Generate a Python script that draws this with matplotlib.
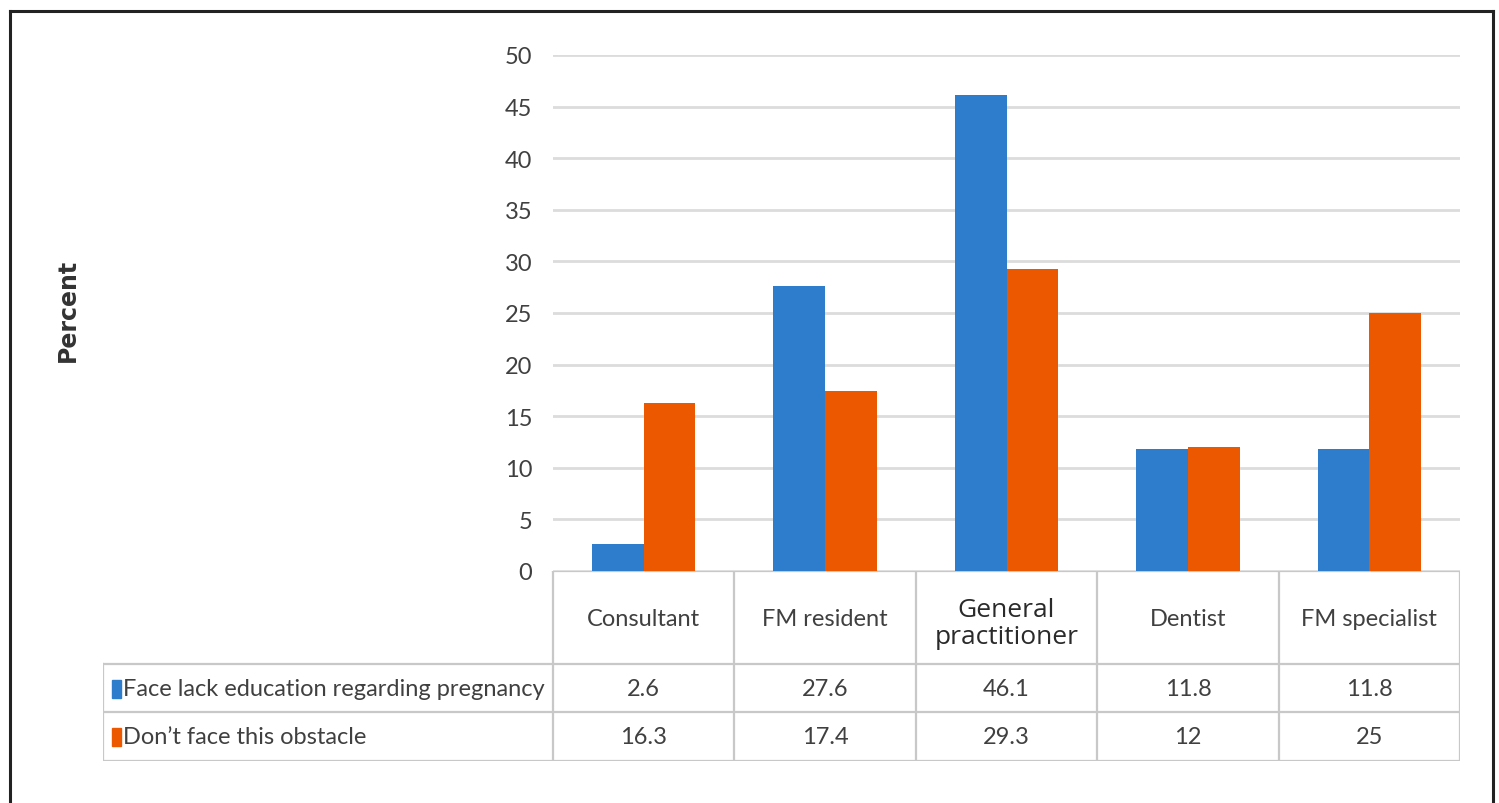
import matplotlib.pyplot as plt
import numpy as np

# Datos por categoría profesional
categorias = ["Consultant", "FM resident", "General\npractitioner", "Dentist", "FM specialist"]
series = ["Face lack education regarding pregnancy", "Don\u2019t face this obstacle"]
falta_educacion = [2.6, 27.6, 46.1, 11.8, 11.8]
no_obstaculo = [16.3, 17.4, 29.3, 12, 25]
etiquetas_falta = ["2.6", "27.6", "46.1", "11.8", "11.8"]
etiquetas_no = ["16.3", "17.4", "29.3", "12", "25"]
colores = ["#2E7DCC", "#EB5800"]

plt.rcParams['font.family'] = ['Lato', 'DejaVu Sans']

W, H = 1499, 804
fig = plt.figure(figsize=(W / 100, H / 100), dpi=100)

def px(x0, y0, x1, y1):
    # caja en píxeles (origen arriba a la izquierda) -> fracción de figura
    return [x0 / W, 1 - y1 / H, (x1 - x0) / W, (y1 - y0) / H]

# Marco exterior
marco = fig.add_axes(px(10, 12, 1493, 812))
marco.set_xticks([])
marco.set_yticks([])
for s in marco.spines.values():
    s.set_linewidth(2.2)
    s.set_color("#222222")
marco.patch.set_alpha(0)

# Gráfico de barras
ax = fig.add_axes(px(553, 56, 1460, 572))
n = len(categorias)
x = np.arange(n)
ancho = 0.285
ax.bar(x - ancho / 2, falta_educacion, ancho, color=colores[0], zorder=3)
ax.bar(x + ancho / 2, no_obstaculo, ancho, color=colores[1], zorder=3)
ax.set_xlim(-0.5, n - 0.5)
ax.set_ylim(0, 50)
ax.set_yticks(range(0, 51, 5))
ax.set_xticks([])
ax.yaxis.grid(True, color="#dcdcdc", linewidth=2.0, zorder=0)
for s in ax.spines.values():
    s.set_visible(False)
ax.tick_params(axis="y", length=0, pad=15, labelsize=17, labelcolor="#404040")
ax.patch.set_alpha(0)

fig.text(68 / W, 1 - 310 / H, "Percent", rotation=90, ha="center", va="center",
         fontsize=17, fontweight="bold", family="DejaVu Sans", color="#333333")

# Tabla de datos debajo del gráfico
tabla = fig.add_axes(px(103, 572, 1460, 762))
tabla.set_xlim(103, 1460)
tabla.set_ylim(762, 572)
tabla.axis("off")
col_ancho = (1460 - 553) / n
filas_y = [572, 665, 713, 762]
borde = dict(color="#c8c8c8", linewidth=1.6)

# líneas verticales
for i in range(n + 1):
    xc = 553 + i * col_ancho
    tabla.plot([xc, xc], [572, 762], **borde)
tabla.plot([103, 103], [665, 762], **borde)
# líneas horizontales
tabla.plot([553, 1460], [572, 572], **borde)
for yf in filas_y[1:]:
    tabla.plot([103, 1460], [yf, yf], **borde)

for i, cat in enumerate(categorias):
    xc = 553 + (i + 0.5) * col_ancho
    if "\n" in cat:
        tabla.text(xc, 624, cat, ha="center", va="center", fontsize=19, color="#2a2a2a",
                   family="Open Sans", linespacing=1.15)
    else:
        tabla.text(xc, 620, cat, ha="center", va="center", fontsize=17, color="#404040")
    tabla.text(xc, 690, etiquetas_falta[i], ha="center", va="center", fontsize=17, color="#404040")
    tabla.text(xc, 738, etiquetas_no[i], ha="center", va="center", fontsize=17, color="#404040")

for j, (nombre, yc) in enumerate(zip(series, [690, 738])):
    tabla.add_patch(plt.Rectangle((112, yc - 9), 9, 18, color=colores[j]))
    tabla.text(123, yc, nombre, ha="left", va="center", fontsize=17, color="#404040")

plt.savefig("out.png", dpi=100)
